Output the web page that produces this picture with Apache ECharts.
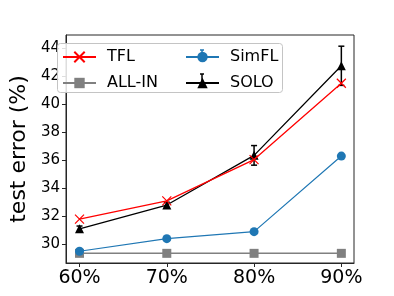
<!DOCTYPE html>
<html><head><meta charset="utf-8">
<script src="https://cdn.jsdelivr.net/npm/echarts@6/dist/echarts.min.js"></script>
<style>html,body{margin:0;padding:0;background:#fff}#c{width:394px;height:296px}</style>
</head><body><div id="c"></div>
<script>
const categories = ['60%', '70%', '80%', '90%'];
const yTicks = [30, 32, 34, 36, 38, 40, 42, 44];
const tfl = [31.8, 33.1, 36.05, 41.5];
const allIn = [29.35, 29.35, 29.35, 29.35];
const simfl = [29.5, 30.4, 30.9, 36.3];
const simflErr = [0.05, 0.05, 0.05, 0.05];
const solo = [31.1, 32.8, 36.35, 42.75];
const soloErr = [0.2, 0.2, 0.7, 1.4];

const xIdx = categories.map((c, i) => i);
const pts = arr => arr.map((v, i) => [i, v]);
const errData = (vals, errs) => vals.map((v, i) => [i, v - errs[i], v + errs[i]]);

function errSeries(name, vals, errs, color) {
  return {
    type: 'custom', name: name, z: 5,
    data: errData(vals, errs),
    renderItem: function (params, api) {
      const lo = api.coord([api.value(0), api.value(1)]);
      const hi = api.coord([api.value(0), api.value(2)]);
      const w = 3;
      const st = { stroke: color, lineWidth: 1.5 };
      return { type: 'group', children: [
        { type: 'line', shape: { x1: lo[0], y1: lo[1], x2: hi[0], y2: hi[1] }, style: st },
        { type: 'line', shape: { x1: lo[0] - w, y1: lo[1], x2: lo[0] + w, y2: lo[1] }, style: st },
        { type: 'line', shape: { x1: hi[0] - w, y1: hi[1], x2: hi[0] + w, y2: hi[1] }, style: st }
      ]};
    },
    tooltip: { show: false }
  };
}

const font = 'DejaVu Sans';
const legendCommon = {
  orient: 'vertical', itemWidth: 33, itemHeight: 13, itemGap: 10, padding: 0,
  textStyle: { fontSize: 16, lineHeight: 15, color: '#000', fontFamily: font, padding: [0, 0, 0, 6] }
};
const lg = (x1, y1, x2, y2, c) => ({ type: 'line', z: 10, shape: { x1: x1, y1: y1, x2: x2, y2: y2 }, style: { stroke: c, lineWidth: 1.5 } });

const chart = echarts.init(document.getElementById('c'), null, { renderer: 'canvas' });
chart.setOption({
  animation: false,
  textStyle: { fontFamily: font },
  grid: { left: 49, right: 40, top: 35, bottom: 33, show: true, borderColor: '#262626', borderWidth: 1 },
  graphic: {
    elements: [
      { type: 'rect', z: 1, left: 57, top: 43, shape: { width: 225, height: 49, r: 3 },
        style: { fill: 'rgba(255,255,255,0.85)', stroke: '#c4c4c4', lineWidth: 1 } },
      lg(202, 50, 202, 60, '#1f77b4'), lg(200, 50, 204, 50, '#1f77b4'), lg(200, 60, 204, 60, '#1f77b4'),
      lg(202, 74, 202, 86, '#000'), lg(200, 74, 204, 74, '#000'), lg(200, 86, 204, 86, '#000')
    ]
  },
  xAxis: {
    type: 'value', min: -0.155, max: 3.145,
    splitLine: { show: false },
    axisLine: { show: true, onZero: false, lineStyle: { color: '#262626' } },
    axisTick: { show: true, customValues: xIdx, length: 4, lineStyle: { color: '#262626' } },
    axisLabel: { customValues: xIdx, formatter: v => categories[Math.round(v)] || '', color: '#000', fontSize: 19, margin: 6, fontFamily: font }
  },
  yAxis: {
    type: 'value', min: 28.66, max: 44.95,
    name: 'test error (%)', nameLocation: 'middle', nameGap: 33, nameRotate: 90,
    nameTextStyle: { fontSize: 22, color: '#000', fontFamily: font },
    splitLine: { show: false },
    axisLine: { show: true, onZero: false, lineStyle: { color: '#262626' } },
    axisTick: { show: true, customValues: yTicks, length: 4, lineStyle: { color: '#262626' } },
    axisLabel: { customValues: yTicks, color: '#000', fontSize: 15, margin: 6, fontFamily: font }
  },
  legend: [
    Object.assign({ left: 62, top: 49, data: ['TFL', 'ALL-IN'] }, legendCommon),
    Object.assign({ left: 185, top: 49, data: ['SimFL', 'SOLO'] }, legendCommon)
  ],
  series: [
    { name: 'ALL-IN', type: 'line', data: pts(allIn), color: '#808080', lineStyle: { width: 1.5, color: '#808080' },
      symbol: 'rect', symbolSize: 9, itemStyle: { color: '#808080' }, z: 2 },
    { name: 'SimFL', type: 'line', data: pts(simfl), color: '#1f77b4', lineStyle: { width: 1.2, color: '#1f77b4' },
      symbol: 'circle', symbolSize: 9, itemStyle: { color: '#1f77b4' }, z: 3 },
    errSeries('SimFL', simfl, simflErr, '#1f77b4'),
    { name: 'SOLO', type: 'line', data: pts(solo), color: '#000', lineStyle: { width: 1.3, color: '#000' },
      symbol: 'triangle', symbolSize: 9, itemStyle: { color: '#000' }, z: 4 },
    errSeries('SOLO', solo, soloErr, '#000'),
    { name: 'TFL', type: 'line', data: pts(tfl), color: '#ff0000', lineStyle: { width: 1.3, color: '#ff0000' },
      symbol: 'path://M0,0L10,10M10,0L0,10', symbolSize: 9,
      itemStyle: { color: 'none', borderColor: '#ff0000', borderWidth: 1.2 }, z: 6 }
  ]
});
</script></body></html>
